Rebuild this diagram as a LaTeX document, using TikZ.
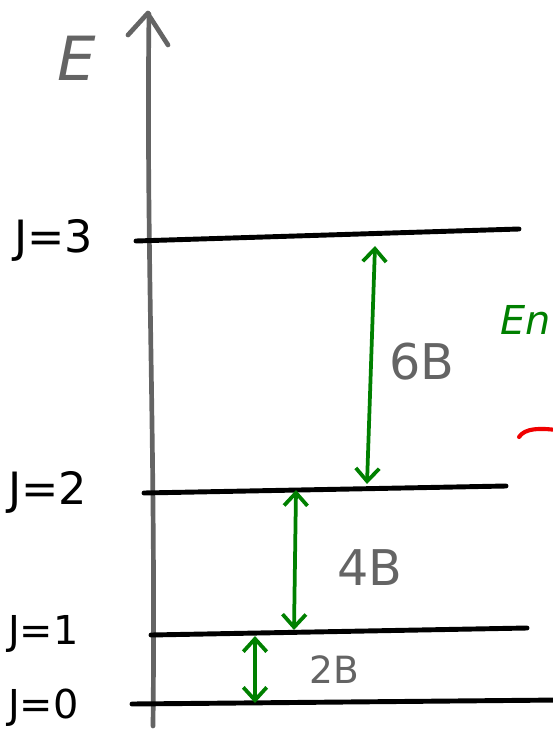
\documentclass[tikz,border=0pt]{standalone}
\usepackage{fontspec}
\setmainfont{DejaVu Sans}
\usepackage{xcolor}
\usetikzlibrary{arrows.meta}
\definecolor{axisgray}{RGB}{100,100,100}
\definecolor{levelgreen}{RGB}{0,128,0}
\definecolor{markred}{RGB}{240,0,0}

\tikzset{
    level/.style={draw=black, line width=4.2pt, line cap=round},
    gap/.style={draw=levelgreen, line width=3.2pt, line cap=round, {Straight Barb[length=11pt,width=20pt]}-{Straight Barb[length=11pt,width=20pt]}},
    jlabel/.style={anchor=west, font=\fontsize{38}{42}\selectfont, inner sep=0pt},
    glabel/.style={text=axisgray, font=\fontsize{42}{46}\selectfont, inner sep=0pt}
}

\begin{document}
\begin{tikzpicture}[x=0.03cm, y=-0.03cm]
    \useasboundingbox (0,0) rectangle (552,731);

    % energy axis
    \coordinate (axisbot) at (153,726);
    \coordinate (axistop) at (149,14);
    \draw[draw=axisgray, line width=4pt, line cap=round] (axisbot) .. controls (156,450) and (146,250) .. (axistop);
    \draw[draw=axisgray, line width=4pt, line cap=round] (128,35) -- (148,13);
    \draw[draw=axisgray, line width=4pt, line cap=round] (150,17) -- (168,45);
    \node[text=axisgray, font=\itshape\fontsize{52}{56}\selectfont, inner sep=0pt] (elabel) at (77,58) {E};

    % levels
    \coordinate (l3a) at (136,241); \coordinate (l3b) at (519,229);
    \coordinate (l2a) at (144,493); \coordinate (l2b) at (506,486);
    \coordinate (l1a) at (151,635); \coordinate (l1b) at (527,628);
    \coordinate (l0a) at (132,704); \coordinate (l0b) at (560,700);
    \draw[level] (l3a) -- (l3b);
    \draw[level] (l2a) -- (l2b);
    \draw[level] (l1a) -- (l1b);
    \draw[level] (l0a) -- (l0b);

    \node[jlabel] (j3) at (14,240) {J=3};
    \node[jlabel] (j2) at (8,492) {J=2};
    \node[jlabel, font=\fontsize{34}{38}\selectfont] (j1) at (8,634) {J=1};
    \node[jlabel, font=\fontsize{34}{38}\selectfont] (j0) at (8,708) {J=0};

    % spacings
    \coordinate (g3top) at (375,246); \coordinate (g3bot) at (367,484);
    \coordinate (g2top) at (296,490); \coordinate (g2bot) at (294,630);
    \coordinate (g1top) at (255,636); \coordinate (g1bot) at (255,703);
    \draw[gap] (g3top) -- (g3bot);
    \draw[gap] (g2top) -- (g2bot);
    \draw[gap] (g1top) -- (g1bot);
    \node[glabel] (d3) at (422,362) {6B};
    \node[glabel] (d2) at (370,568) {4B};
    \node[glabel, font=\fontsize{32}{36}\selectfont] (d1) at (334,670) {2B};

    % cut off at the right
    \node[text=levelgreen, anchor=west, font=\itshape\fontsize{34}{38}\selectfont, inner sep=0pt] (energy) at (500,320) {En};
    \draw[draw=markred, line width=3.5pt, line cap=round] (519,437) .. controls (525,428) and (540,428) .. (556,430);
\end{tikzpicture}
\end{document}
